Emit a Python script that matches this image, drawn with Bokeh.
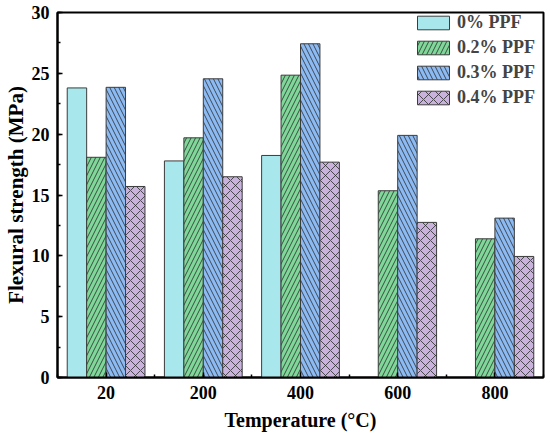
import numpy as np
from bokeh.plotting import figure
from bokeh.models import FixedTicker, SingleIntervalTicker, Range1d, Legend
from bokeh.embed import file_html
from bokeh.resources import INLINE

temps = ["20", "200", "400", "600", "800"]
series_names = ["0% PPF", "0.2% PPF", "0.3% PPF", "0.4% PPF"]
ppf_0 = [23.8, 17.8, 18.25, np.nan, np.nan]
ppf_02 = [18.1, 19.7, 24.85, 15.35, 11.4]
ppf_03 = [23.85, 24.55, 27.43, 19.9, 13.1]
ppf_04 = [15.7, 16.5, 17.7, 12.75, 9.95]

series = [ppf_0, ppf_02, ppf_03, ppf_04]
colors = ["#A8E8EC", "#7FD899", "#8CBBF4", "#C9B3DD"]
hatches = [None, "right_diagonal_line", "left_diagonal_line", "diagonal_cross"]
hscales = [9, 9, 9, 10]

FONT = "Liberation Serif"

p = figure(width=550, height=440, output_backend="svg", toolbar_location=None,
           x_range=Range1d(-0.5, len(temps) - 0.5), y_range=Range1d(0, 30),
           min_border_left=56, min_border_right=7, min_border_top=12, min_border_bottom=63)

xs = np.arange(len(temps))
bw = 0.2
legend_items = []
for j, (vals, c, h, hs, name) in enumerate(zip(series, colors, hatches, hscales, series_names)):
    kw = dict(fill_color=c, line_color="#3c3c3c", line_width=1)
    if h is not None:
        kw.update(hatch_pattern=h, hatch_color="#2a2a2a", hatch_scale=hs, hatch_weight=0.8)
    r = p.vbar(x=xs + (j - 1.5) * bw, top=vals, width=bw, **kw)
    legend_items.append((name, [r]))

legend = Legend(items=legend_items, location="top_right", glyph_width=40, glyph_height=17,
                label_height=17, label_width=86, spacing=4, label_standoff=4, padding=5, margin=0,
                border_line_color=None, background_fill_alpha=0,
                label_text_font=FONT, label_text_font_style="bold", label_text_font_size="18px")
p.add_layout(legend, "center")

p.xgrid.visible = False
p.ygrid.visible = False
p.outline_line_color = "black"
p.outline_line_width = 2

p.xaxis.ticker = FixedTicker(ticks=list(xs), minor_ticks=list(np.arange(-0.5, len(temps), 1.0)))
p.xaxis.major_label_overrides = {int(i): t for i, t in zip(xs, temps)}
p.yaxis.ticker = SingleIntervalTicker(interval=5, num_minor_ticks=2)

for ax in (p.xaxis[0], p.yaxis[0]):
    ax.axis_line_width = 2
    ax.axis_line_color = "black"
    ax.major_tick_in = 5
    ax.major_tick_out = 0
    ax.minor_tick_in = 3
    ax.minor_tick_out = 0
    ax.major_tick_line_width = 1.5
    ax.minor_tick_line_width = 1.5
    ax.major_label_text_font = FONT
    ax.major_label_text_font_style = "bold"
    ax.major_label_text_font_size = "18px"
    ax.major_label_text_color = "black"
    ax.axis_label_text_font = FONT
    ax.axis_label_text_font_style = "bold"
    ax.axis_label_text_color = "black"

p.xaxis.axis_label = "Temperature (\u00b0C)"
p.xaxis.axis_label_text_font_size = "20px"
p.xaxis.major_label_standoff = 8
p.xaxis.axis_label_standoff = 7
p.yaxis.axis_label = "Flexural strength (MPa)"
p.yaxis.axis_label_text_font_size = "21px"
p.yaxis.major_label_standoff = 8
p.yaxis.axis_label_standoff = 1

open("out.html", "w").write(file_html(p, INLINE))
